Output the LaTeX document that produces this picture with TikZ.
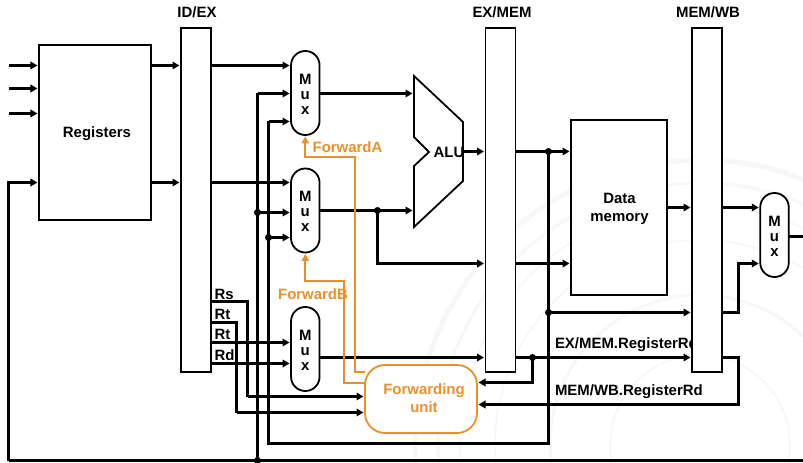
\documentclass[tikz,border=0pt]{standalone}
\usepackage{fontspec}
\setmainfont{Liberation Sans}
\usetikzlibrary{arrows.meta}
\definecolor{fwdorange}{HTML}{E8912A}
\definecolor{sealgray}{HTML}{F7F7F7}
\tikzset{
  x=1bp,y=-1bp,
  every node/.style={font=\fontsize{15}{15}\selectfont\bfseries,inner sep=0,outer sep=0},
  boxed/.style={draw=black,line width=1.8bp,fill=white},
  regbar/.style={boxed,minimum width=30bp,minimum height=344bp},
  muxbox/.style={boxed,minimum width=28.5bp,minimum height=84bp,rounded corners=14.2bp},
  wire/.style={line width=2.8bp,-{Triangle[length=7bp,width=7.5bp]},shorten >=1.5bp},
  plain/.style={line width=2.8bp},
  fwire/.style={line width=1.8bp,draw=fwdorange},
  farrow/.style={fwire,-{Triangle[length=7bp,width=7.5bp]},shorten >=1.5bp},
  dotjoin/.style={circle,fill=black,minimum size=7bp},
  txt/.style={align=center}
}
\newcommand{\muxlabel}{M\\[0pt]u\\[0pt]x}
\begin{document}
\begin{tikzpicture}
\useasboundingbox (0,0) rectangle (803,463);
% faint background seal
\begin{scope}
\clip (0,0) rectangle (803,463);
\foreach \r/\w in {285/5,262/3,240/2,205/2,150/3,90/2}{
  \draw[sealgray,line width=\w bp] (700,445) circle (\r);
}
\end{scope}
% rows
\foreach \n/\y in {a/65.5,b/88.5,c/113.5,d/182.5,e/93.5,f/121.5,g/212.5,h/237.5,i/210.5,j/263.5,k/151.5,l/207.5,m/312.5,n/236.5,o/342.5,p/363.5,q/357.5,r/382.5,s/404.5,t/301.5,u/322.5,v/396.5,w/412.5,bot/460.5,low/443.5,fa/157,fb/281,fc/372,fd/383}{
  \coordinate (r\n) at (0,\y);
}
% labels that lie beneath boxes and wires
\node[anchor=west] (lbex) at (555,345) {EX/MEM.RegisterRd};
\node[anchor=west] (lbwb) at (555,392) {MEM/WB.RegisterRd};
\node[anchor=west] (lrs) at (214.5,294) {Rs};
\node[anchor=west] (lrt1) at (214.5,314) {Rt};
\node[anchor=west] (lrt2) at (214.5,334) {Rt};
\node[anchor=west] (lrd) at (214.5,355) {Rd};
\node[text=fwdorange] (lfa) at (347.5,147) {ForwardA};
\node[text=fwdorange] (lfb) at (313,294) {ForwardB};
% boxes
\node[boxed,minimum width=112bp,minimum height=175bp] (reg) at (95,132.5) {};
\node (tr) at (97,133.5) {Registers};
\node[regbar] (idex) at (196,200) {};
\node[regbar] (exmem) at (500.5,200) {};
\node[regbar] (memwb) at (707,200) {};
\node[boxed,minimum width=96bp,minimum height=175bp] (dmem) at (619,207.5) {};
\node[txt] (tdm) at (619.5,209) {Data\\[3pt]memory};
\node[muxbox] (mux1) at (305.3,93) {};
\node[muxbox] (mux2) at (305.3,210.5) {};
\node[muxbox] (mux3) at (305.3,349) {};
\node[muxbox] (mux4) at (774.5,235) {};
\node[txt] (tm1) at (305.3,94) {\muxlabel};
\node[txt] (tm2) at (305.3,211.5) {\muxlabel};
\node[txt] (tm3) at (305.3,350) {\muxlabel};
\node[txt] (tm4) at (774.5,236) {\muxlabel};
\node[draw=fwdorange,line width=1.8bp,fill=white,rounded corners=20bp,minimum width=112bp,minimum height=68bp] (fwd) at (421,399) {};
\node[txt,text=fwdorange] (tfw) at (424,398.5) {Forwarding\\[3pt]unit};
\node[above] (tidex) at (197,18) {ID/EX};
\node[above] (texmem) at (502,18) {EX/MEM};
\node[above] (tmemwb) at (708,18) {MEM/WB};
% ALU
\draw[line width=1.8bp,fill=white,line join=miter] (414,76) -- (463,122) -- (463,181) -- (414,227) -- (414,166) -- (429,152) -- (414,137) -- cycle;
\node (alu) at (449,152) {ALU};
\coordinate (aluinA) at (414,93.5);
\coordinate (aluinB) at (414,210.5);
\coordinate (aluout) at (463,151.5);
% free inputs
\coordinate (ina) at (9,65.5);
\coordinate (inb) at (9,88.5);
\coordinate (inc) at (9,113.5);
\coordinate (corner) at (8.5,182.5);
\coordinate (muxoutend) at (803,236.5);
\coordinate (botend) at (803,460.5);
\draw[wire] (ina) -- (reg.west |- ina);
\draw[wire] (inb) -- (reg.west |- inb);
\draw[wire] (inc) -- (reg.west |- inc);
% registers to ID/EX to muxes
\draw[wire] (reg.east |- ra) -- (idex.west |- ra);
\draw[wire] (reg.east |- rd) -- (idex.west |- rd);
\draw[wire] (idex.east |- ra) -- (mux1.west |- ra);
\draw[wire] (idex.east |- rd) -- (mux2.west |- rd);
% forwarded values
\coordinate (xa) at (257.5,0);
\coordinate (xb) at (268.5,0);
\coordinate (xc) at (548.5,0);
\coordinate (xd) at (377.5,0);
\coordinate (xe) at (532.5,0);
\coordinate (xf) at (247.5,0);
\coordinate (xg) at (236.5,0);
\coordinate (xh) at (738.5,0);
\node[dotjoin] (j1) at (xa |- rg) {};
\node[dotjoin] (j2) at (xb |- rh) {};
\node[dotjoin] (j3) at (xa |- rbot) {};
\node[dotjoin] (j4) at (xc |- rk) {};
\node[dotjoin] (j5) at (xc |- rm) {};
\node[dotjoin] (j6) at (xd |- ri) {};
\node[dotjoin] (j7) at (xe |- rq) {};
\draw[wire] (corner |- rbot) -- (corner) -- (reg.west |- corner);
\draw[plain] (corner |- rbot) -- (botend);
\draw[plain] (j3.center) -- (xa |- re);
\draw[wire] (xa |- re) -- (mux1.west |- re);
\draw[wire] (j1.center) -- (mux2.west |- rg);
\draw[plain] (j4.center) -- (xc |- rlow) -- (xb |- rlow) -- (xb |- rf);
\draw[wire] (xb |- rf) -- (mux1.west |- rf);
\draw[wire] (j2.center) -- (mux2.west |- rh);
% muxes to ALU
\draw[wire] (mux1.east |- re) -- (aluinA);
\draw[wire] (mux2.east |- ri) -- (aluinB);
\draw[wire] (j6.center) -- (xd |- rj) -- (exmem.west |- rj);
\draw[wire] (aluout) -- (exmem.west |- aluout);
% EX/MEM onward
\draw[wire] (exmem.east |- rk) -- (dmem.west |- rk);
\draw[wire] (exmem.east |- rj) -- (dmem.west |- rj);
\draw[wire] (j5.center) -- (memwb.west |- rm);
\draw[wire] (dmem.east |- rl) -- (memwb.west |- rl);
\draw[wire] (memwb.east |- rl) -- (mux4.west |- rl);
\draw[wire] (memwb.east |- rm) -- (xh |- rm) -- (xh |- rj) -- (mux4.west |- rj);
\draw[plain] (mux4.east |- rn) -- (muxoutend);
% Rs Rt Rd
\draw[plain] (idex.east |- rt) -- (xf |- rt) -- (xf |- rv);
\draw[wire] (xf |- rv) -- (fwd.west |- rv);
\draw[plain] (idex.east |- ru) -- (xg |- ru) -- (xg |- rw);
\draw[wire] (xg |- rw) -- (fwd.west |- rw);
\draw[wire] (idex.east |- ro) -- (mux3.west |- ro);
\draw[wire] (idex.east |- rp) -- (mux3.west |- rp);
\draw[wire] (mux3.east |- rq) -- (exmem.west |- rq);
\draw[wire] (exmem.east |- rq) -- (memwb.west |- rq);
\draw[wire] (j7.center) -- (xe |- rr) -- (fwd.east |- rr);
\draw[wire] (memwb.east |- rq) -- (xh |- rq) -- (xh |- rs) -- (fwd.east |- rs);
% forwarding control
\coordinate (fxa) at (355,0);
\coordinate (fxb) at (344,0);
\draw[farrow] (fwd.west |- rfc) -- (fxa |- rfc) -- (fxa |- rfa) -- (mux1.center |- rfa) -- (mux1.south);
\draw[farrow] (fwd.west |- rfd) -- (fxb |- rfd) -- (fxb |- rfb) -- (mux2.center |- rfb) -- (mux2.south);
\end{tikzpicture}
\end{document}
